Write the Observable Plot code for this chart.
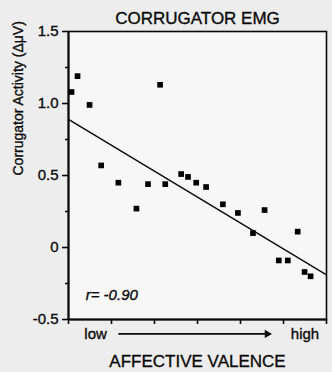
<!DOCTYPE html>
<html>
<head>
<meta charset="utf-8">
<script src="https://cdn.jsdelivr.net/npm/d3@7"></script>
<script src="https://cdn.jsdelivr.net/npm/@observablehq/plot@0.6"></script>
<style>
  html, body { margin: 0; padding: 0; background: #ededed; }
  #chart svg { display: block; }
</style>
</head>
<body>
<div id="chart"></div>
<script>
// Affective valence position (0 = low ... 6 = high)
const valence = [0.07, 0.21, 0.49, 0.76, 1.16, 1.58, 1.85, 2.13, 2.25, 2.62, 2.78, 2.97, 3.20, 3.59, 3.94, 4.29, 4.56, 5.33, 4.89, 5.10, 5.49, 5.63];
// Corrugator activity (ΔμV)
const activity = [1.08, 1.19, 0.99, 0.57, 0.45, 0.27, 0.44, 1.13, 0.44, 0.51, 0.49, 0.45, 0.42, 0.30, 0.24, 0.10, 0.26, 0.11, -0.09, -0.09, -0.17, -0.20];
// Fitted regression line endpoints
const fitX = [0, 6];
const fitY = [0.89, -0.19];
const yMajorTicks = [-0.5, 0, 0.5, 1.0, 1.5];
const yMajorLabels = ["-0.5", "0", "0.5", "1.0", "1.5"];
const yMinorTicks = [-0.25, 0.25, 0.75, 1.25];
const xTicks = [0, 1, 2, 3, 4, 5, 6];
const titleText = "CORRUGATOR EMG";
const yLabel = "Corrugator Activity (ΔμV)";
const xLabel = "AFFECTIVE VALENCE";
const lowLabel = "low";
const highLabel = "high";
const rText = "r= -0.90";

const points = valence.map((v, i) => ({x: v, y: activity[i]}));
const fit = fitX.map((v, i) => ({x: v, y: fitY[i]}));
const font = "'Liberation Sans', Arial, Helvetica, sans-serif";
const ink = "#0a0a0a";
const thick = {stroke: ink, strokeWidth: 0.35, paintOrder: "normal"};

const chart = Plot.plot({
  width: 332,
  height: 372,
  marginLeft: 68,
  marginRight: 6,
  marginTop: 31,
  marginBottom: 53,
  style: {fontFamily: font, background: "#ededed", color: ink},
  x: {domain: [0, 6], axis: null},
  y: {domain: [-0.5, 1.5], axis: null},
  marks: [
    Plot.frame({fill: "#f7f7f7", stroke: "none"}),
    Plot.axisY(yMajorTicks, {tickSize: 6, tickPadding: 4, fontSize: 15, tickFormat: (d) => yMajorLabels[yMajorTicks.indexOf(d)], strokeWidth: 1.6, stroke: ink, label: null, fill: ink, textStroke: ink, textStrokeWidth: 0.35}),
    Plot.axisY(yMinorTicks, {tickSize: 3, tickFormat: () => "", strokeWidth: 1.6, stroke: ink, label: null}),
    Plot.axisX(xTicks, {tickSize: 5, tickFormat: () => "", strokeWidth: 1.6, stroke: ink, label: null}),
    Plot.frame({stroke: ink, strokeWidth: 1.6}),
    Plot.ruleX([0], {stroke: ink, strokeWidth: 2}),
    Plot.ruleY([-0.5], {stroke: ink, strokeWidth: 2}),
    Plot.line(fit, {x: "x", y: "y", stroke: ink, strokeWidth: 1.4}),
    Plot.dot(points, {x: "x", y: "y", symbol: "square", r: 3.2, fill: "#000", stroke: "none"}),
    Plot.text([titleText], {frameAnchor: "top", dy: -8, fontSize: 17, fill: ink, lineAnchor: "bottom", ...thick}),
    Plot.text([yLabel], {frameAnchor: "left", dx: -50, rotate: -90, fontSize: 14, fill: ink, ...thick}),
    Plot.text([xLabel], {frameAnchor: "bottom", dy: 47, fontSize: 17, fill: ink, lineAnchor: "bottom", ...thick}),
    Plot.text([rText], {x: [0.4], y: [-0.33], textAnchor: "start", fontSize: 15, fontStyle: "italic", fill: ink, letterSpacing: "1px", ...thick}),
    Plot.text([lowLabel], {x: [0.63], frameAnchor: "bottom", dy: 19, lineAnchor: "bottom", fontSize: 15, letterSpacing: "1.5px", fill: ink, ...thick}),
    Plot.text([highLabel], {x: [5.5], frameAnchor: "bottom", dy: 19, lineAnchor: "bottom", fontSize: 15, letterSpacing: "2px", fill: ink, ...thick}),
    Plot.link([{x1: 1.16, x2: 4.6}], {x1: "x1", x2: "x2", y1: () => -0.6, y2: () => -0.6, stroke: ink, strokeWidth: 1.6}),
    Plot.dot([{x: 4.62}], {x: "x", y: () => -0.6, symbol: "triangle2", rotate: 90, r: 4, fill: ink, stroke: "none"})
  ]
});
document.getElementById("chart").appendChild(chart);
</script>
</body>
</html>
